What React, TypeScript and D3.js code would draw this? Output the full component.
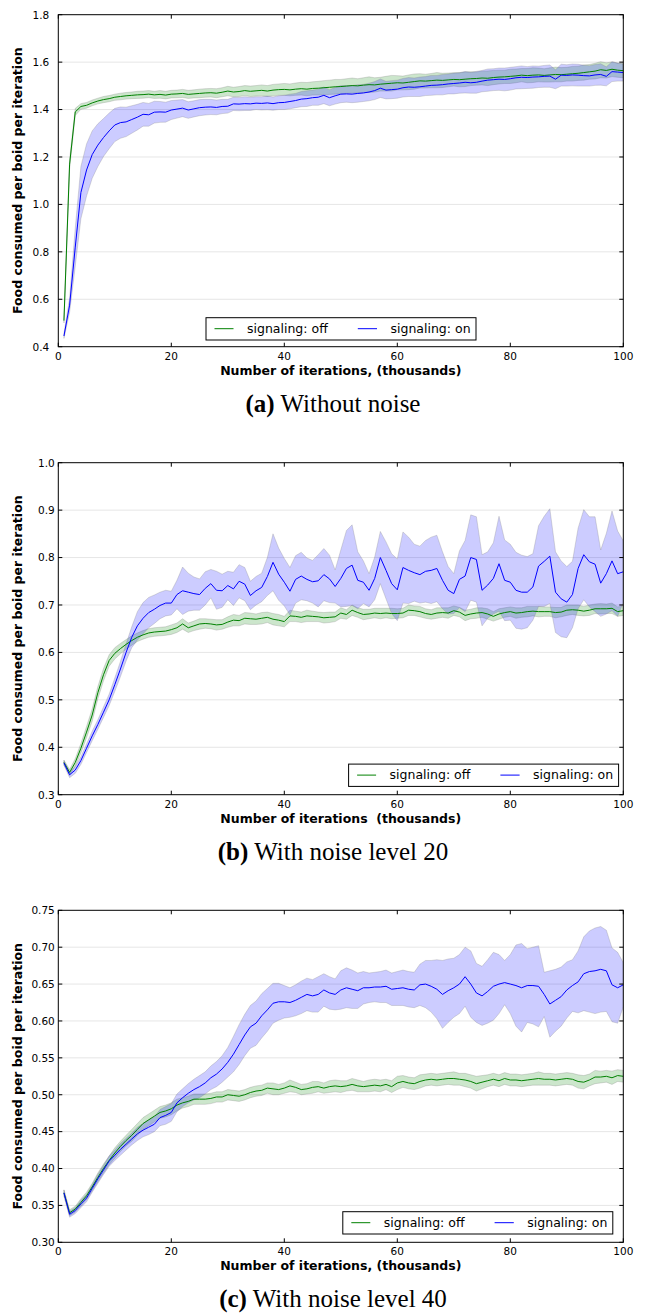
import React from 'react';
import * as d3 from 'd3';

const W = 646, H = 1314;
const LEFT = 58.3, RIGHT = 623.3, PLOT_H = 332;
const GREEN = '#008000', BLUE = '#0000ff';
const FONT = '"DejaVu Sans", sans-serif';

// x: iterations in thousands
const ITERS = d3.range(1, 101);
const X_TICKS = [0, 20, 40, 60, 80, 100];

// (a) without noise
const A_Y_TICKS = [0.4, 0.6, 0.8, 1.0, 1.2, 1.4, 1.6, 1.8];
const A_OFF = [
  0.51, 1.17, 1.39, 1.413, 1.418, 1.428, 1.436, 1.442, 1.446, 1.452,
  1.455, 1.458, 1.46, 1.462, 1.463, 1.465, 1.462, 1.464, 1.461, 1.465,
  1.466, 1.468, 1.464, 1.466, 1.468, 1.47, 1.471, 1.469, 1.473, 1.478,
  1.474, 1.476, 1.48, 1.477, 1.479, 1.481, 1.478, 1.482, 1.484, 1.485,
  1.483, 1.486, 1.488, 1.486, 1.489, 1.49, 1.492, 1.494, 1.496, 1.497,
  1.499, 1.501, 1.5, 1.503, 1.505, 1.504, 1.507, 1.509, 1.511, 1.513,
  1.512, 1.515, 1.518, 1.521, 1.52, 1.522, 1.524, 1.523, 1.525, 1.527,
  1.526, 1.528, 1.53, 1.531, 1.533, 1.532, 1.535, 1.537, 1.538, 1.54,
  1.542, 1.545, 1.543, 1.545, 1.546, 1.544, 1.546, 1.548, 1.547, 1.549,
  1.551, 1.553, 1.556, 1.559, 1.562, 1.568, 1.565, 1.57, 1.566, 1.564,
];
const A_OFF_SD = [
  0.01, 0.02, 0.015, 0.012, 0.012, 0.012, 0.012, 0.013, 0.013, 0.013,
  0.014, 0.014, 0.014, 0.015, 0.015, 0.015, 0.015, 0.016, 0.016, 0.016,
  0.016, 0.017, 0.017, 0.017, 0.018, 0.018, 0.018, 0.019, 0.019, 0.02,
  0.02, 0.021, 0.021, 0.022, 0.022, 0.023, 0.023, 0.024, 0.024, 0.025,
  0.025, 0.026, 0.027, 0.028, 0.028, 0.029, 0.03, 0.03, 0.031, 0.03,
  0.031, 0.032, 0.03, 0.031, 0.033, 0.03, 0.029, 0.031, 0.033, 0.03,
  0.029, 0.031, 0.032, 0.03, 0.029, 0.03, 0.032, 0.03, 0.029, 0.028,
  0.03, 0.031, 0.029, 0.028, 0.029, 0.031, 0.03, 0.029, 0.028, 0.03,
  0.029, 0.028, 0.03, 0.031, 0.029, 0.028, 0.03, 0.031, 0.03, 0.029,
  0.031, 0.03, 0.032, 0.031, 0.033, 0.034, 0.032, 0.031, 0.03, 0.03,
];
const A_ON = [
  0.445, 0.575, 0.82, 1.05, 1.145, 1.21, 1.25, 1.282, 1.31, 1.335,
  1.345, 1.348, 1.358, 1.368, 1.38, 1.378, 1.389, 1.39, 1.389, 1.398,
  1.402, 1.406, 1.398, 1.403, 1.408, 1.41, 1.411, 1.409, 1.413, 1.414,
  1.424, 1.423, 1.425, 1.424, 1.427, 1.426, 1.428, 1.425, 1.429, 1.43,
  1.434, 1.438, 1.444, 1.446, 1.45, 1.452, 1.46, 1.45, 1.458, 1.465,
  1.466, 1.465, 1.468, 1.47, 1.474, 1.48, 1.49, 1.482, 1.484, 1.486,
  1.492, 1.495, 1.494, 1.496, 1.499, 1.502, 1.503, 1.505, 1.508, 1.51,
  1.512, 1.515, 1.513, 1.515, 1.52, 1.524, 1.526, 1.528, 1.527, 1.53,
  1.534, 1.536, 1.535, 1.537, 1.538, 1.54, 1.541, 1.528, 1.545, 1.544,
  1.546, 1.545, 1.543, 1.542, 1.546, 1.548, 1.54, 1.56, 1.558, 1.556,
];
const A_ON_SD = [
  0.01, 0.03, 0.08, 0.11, 0.11, 0.1, 0.09, 0.08, 0.075, 0.07,
  0.066, 0.062, 0.058, 0.054, 0.05, 0.048, 0.046, 0.044, 0.042, 0.04,
  0.038, 0.036, 0.035, 0.034, 0.034, 0.033, 0.032, 0.031, 0.03, 0.029,
  0.028, 0.028, 0.029, 0.028, 0.027, 0.028, 0.029, 0.028, 0.029, 0.03,
  0.031, 0.03, 0.032, 0.033, 0.032, 0.034, 0.035, 0.034, 0.035, 0.036,
  0.035, 0.036, 0.037, 0.036, 0.037, 0.038, 0.039, 0.037, 0.038, 0.038,
  0.039, 0.04, 0.039, 0.041, 0.04, 0.042, 0.041, 0.043, 0.042, 0.044,
  0.043, 0.045, 0.044, 0.046, 0.045, 0.047, 0.046, 0.047, 0.048, 0.048,
  0.047, 0.048, 0.046, 0.047, 0.045, 0.046, 0.047, 0.04, 0.046, 0.045,
  0.046, 0.046, 0.044, 0.043, 0.044, 0.045, 0.04, 0.042, 0.038, 0.036,
];

// (b) noise level 20
const B_Y_TICKS = [0.3, 0.4, 0.5, 0.6, 0.7, 0.8, 0.9, 1.0];
const B_OFF = [
  0.368, 0.347, 0.368, 0.398, 0.432, 0.468, 0.515, 0.553, 0.583, 0.598,
  0.608, 0.617, 0.625, 0.632, 0.637, 0.641, 0.643, 0.644, 0.645, 0.648,
  0.652, 0.66, 0.652, 0.656, 0.66, 0.661, 0.66, 0.658, 0.659, 0.664,
  0.668, 0.667, 0.672, 0.671, 0.67, 0.672, 0.674, 0.67, 0.668, 0.665,
  0.677, 0.676, 0.674, 0.677, 0.676, 0.675, 0.673, 0.674, 0.675, 0.683,
  0.68, 0.689, 0.684, 0.68, 0.681, 0.683, 0.682, 0.683, 0.682, 0.682,
  0.683, 0.689, 0.688, 0.686, 0.682, 0.68, 0.683, 0.684, 0.683, 0.688,
  0.685, 0.678, 0.681, 0.683, 0.684, 0.681, 0.676, 0.681, 0.684, 0.686,
  0.683, 0.684, 0.686, 0.687, 0.686, 0.686, 0.686, 0.684, 0.685, 0.689,
  0.69, 0.689, 0.687, 0.689, 0.692, 0.692, 0.692, 0.693, 0.686, 0.688,
];
const B_OFF_SD = [
  0.005, 0.006, 0.008, 0.01, 0.012, 0.013, 0.013, 0.013, 0.012, 0.012,
  0.011, 0.01, 0.01, 0.009, 0.009, 0.009, 0.009, 0.009, 0.009, 0.01,
  0.01, 0.011, 0.01, 0.01, 0.011, 0.01, 0.01, 0.011, 0.01, 0.011,
  0.012, 0.011, 0.012, 0.012, 0.011, 0.012, 0.011, 0.012, 0.012, 0.011,
  0.012, 0.011, 0.011, 0.012, 0.011, 0.01, 0.011, 0.011, 0.01, 0.011,
  0.01, 0.011, 0.01, 0.011, 0.01, 0.01, 0.011, 0.01, 0.011, 0.01,
  0.01, 0.011, 0.01, 0.011, 0.01, 0.01, 0.011, 0.01, 0.011, 0.01,
  0.01, 0.011, 0.01, 0.011, 0.01, 0.011, 0.01, 0.011, 0.01, 0.01,
  0.011, 0.01, 0.011, 0.01, 0.011, 0.01, 0.01, 0.011, 0.01, 0.011,
  0.01, 0.011, 0.01, 0.011, 0.01, 0.011, 0.01, 0.011, 0.01, 0.01,
];
const B_ON = [
  0.367, 0.342, 0.352, 0.372, 0.398, 0.424, 0.448, 0.474, 0.5, 0.532,
  0.565, 0.6, 0.632, 0.656, 0.672, 0.684, 0.691, 0.699, 0.704, 0.704,
  0.722, 0.73, 0.727, 0.724, 0.722, 0.735, 0.745, 0.731, 0.73, 0.741,
  0.734, 0.75, 0.744, 0.72, 0.73, 0.737, 0.76, 0.79, 0.765, 0.748,
  0.729, 0.754, 0.761, 0.754, 0.749, 0.751, 0.764, 0.755, 0.739, 0.756,
  0.777, 0.784, 0.752, 0.748, 0.731, 0.756, 0.8, 0.773, 0.745, 0.732,
  0.779, 0.773, 0.768, 0.764, 0.771, 0.773, 0.777, 0.752, 0.731, 0.724,
  0.754, 0.761, 0.8, 0.796, 0.731, 0.742, 0.756, 0.787, 0.752, 0.748,
  0.731, 0.727, 0.727, 0.738, 0.782, 0.792, 0.803, 0.727, 0.713, 0.706,
  0.722, 0.777, 0.806, 0.791, 0.786, 0.746, 0.766, 0.793, 0.766, 0.77,
];
const B_ON_SD = [
  0.005, 0.006, 0.007, 0.008, 0.009, 0.01, 0.01, 0.011, 0.012, 0.014,
  0.016, 0.018, 0.022, 0.03, 0.033, 0.032, 0.03, 0.028, 0.027, 0.025,
  0.03, 0.05, 0.04, 0.035, 0.033, 0.035, 0.03, 0.04, 0.035, 0.03,
  0.035, 0.035, 0.035, 0.03, 0.03, 0.03, 0.04, 0.06, 0.055, 0.05,
  0.05, 0.05, 0.05, 0.045, 0.045, 0.055, 0.055, 0.05, 0.035, 0.06,
  0.08, 0.085, 0.06, 0.045, 0.035, 0.045, 0.055, 0.06, 0.063, 0.065,
  0.075, 0.07, 0.06, 0.06, 0.065, 0.07, 0.07, 0.06, 0.05, 0.042,
  0.06, 0.075, 0.09, 0.09, 0.075, 0.07, 0.075, 0.1, 0.085, 0.08,
  0.08, 0.078, 0.075, 0.07, 0.085, 0.095, 0.1, 0.085, 0.08, 0.075,
  0.07, 0.085, 0.095, 0.095, 0.1, 0.07, 0.085, 0.105, 0.09, 0.065,
];

// (c) noise level 40
const C_Y_TICKS = [0.3, 0.35, 0.4, 0.45, 0.5, 0.55, 0.6, 0.65, 0.7, 0.75];
const C_OFF = [
  0.367, 0.34, 0.345, 0.354, 0.363, 0.375, 0.388, 0.4, 0.411, 0.421,
  0.43, 0.438, 0.445, 0.453, 0.461, 0.466, 0.471, 0.476, 0.478, 0.481,
  0.486, 0.489, 0.491, 0.494, 0.494, 0.494, 0.495, 0.497, 0.497, 0.5,
  0.499, 0.498, 0.5, 0.503, 0.505, 0.506, 0.509, 0.508, 0.507, 0.509,
  0.512, 0.51, 0.507, 0.508, 0.51, 0.511, 0.509, 0.511, 0.512, 0.511,
  0.512, 0.514, 0.512, 0.511, 0.512, 0.513, 0.512, 0.514, 0.511, 0.516,
  0.518, 0.516, 0.515, 0.518, 0.52, 0.521, 0.52, 0.521, 0.522, 0.522,
  0.521, 0.52, 0.518, 0.515, 0.517, 0.519, 0.521, 0.519, 0.522, 0.52,
  0.52, 0.519, 0.52, 0.521, 0.522, 0.521, 0.521, 0.52, 0.521, 0.522,
  0.521, 0.518, 0.517, 0.52, 0.524, 0.524, 0.525, 0.523, 0.526, 0.525,
];
const C_OFF_SD = [
  0.004, 0.004, 0.004, 0.005, 0.005, 0.005, 0.006, 0.006, 0.006, 0.007,
  0.007, 0.007, 0.008, 0.008, 0.008, 0.008, 0.008, 0.008, 0.008, 0.008,
  0.008, 0.007, 0.007, 0.007, 0.007, 0.007, 0.007, 0.007, 0.007, 0.007,
  0.007, 0.007, 0.007, 0.007, 0.007, 0.007, 0.007, 0.008, 0.007, 0.007,
  0.008, 0.007, 0.007, 0.007, 0.008, 0.007, 0.007, 0.008, 0.008, 0.008,
  0.007, 0.008, 0.008, 0.007, 0.008, 0.008, 0.008, 0.007, 0.008, 0.009,
  0.008, 0.008, 0.008, 0.009, 0.008, 0.008, 0.008, 0.008, 0.008, 0.009,
  0.008, 0.009, 0.009, 0.01, 0.009, 0.008, 0.008, 0.008, 0.008, 0.008,
  0.008, 0.008, 0.008, 0.008, 0.009, 0.008, 0.008, 0.008, 0.008, 0.008,
  0.008, 0.009, 0.009, 0.008, 0.009, 0.008, 0.008, 0.009, 0.008, 0.008,
];
const C_ON = [
  0.367, 0.338, 0.343, 0.352, 0.36, 0.373, 0.386, 0.398, 0.41, 0.418,
  0.426, 0.433, 0.44, 0.447, 0.452, 0.456, 0.46, 0.469, 0.472, 0.476,
  0.489, 0.496, 0.502, 0.507, 0.511, 0.516, 0.523, 0.528, 0.535, 0.544,
  0.555, 0.568, 0.581, 0.592, 0.597, 0.607, 0.615, 0.624, 0.626, 0.626,
  0.625, 0.628, 0.632, 0.636, 0.634, 0.636, 0.642, 0.638, 0.636, 0.642,
  0.645, 0.643, 0.641, 0.645, 0.645, 0.646, 0.646, 0.647, 0.643, 0.644,
  0.645, 0.643, 0.642, 0.649, 0.65, 0.647, 0.643, 0.636, 0.641, 0.645,
  0.65, 0.66, 0.65, 0.638, 0.634, 0.64, 0.647, 0.65, 0.652, 0.65,
  0.648, 0.645, 0.648, 0.648, 0.647, 0.636, 0.623, 0.628, 0.633, 0.642,
  0.648, 0.653, 0.664, 0.667, 0.668, 0.67, 0.668, 0.649, 0.645, 0.649,
];
const C_ON_SD = [
  0.004, 0.004, 0.004, 0.005, 0.005, 0.005, 0.006, 0.006, 0.007, 0.007,
  0.008, 0.008, 0.008, 0.009, 0.009, 0.01, 0.01, 0.011, 0.012, 0.012,
  0.012, 0.012, 0.013, 0.014, 0.015, 0.015, 0.016, 0.017, 0.018, 0.02,
  0.024, 0.027, 0.028, 0.029, 0.03, 0.03, 0.029, 0.027, 0.025, 0.022,
  0.02, 0.021, 0.022, 0.022, 0.022, 0.024, 0.022, 0.022, 0.021, 0.026,
  0.027, 0.026, 0.024, 0.022, 0.02, 0.02, 0.021, 0.022, 0.022, 0.023,
  0.024, 0.024, 0.024, 0.028, 0.032, 0.035, 0.04, 0.046, 0.043, 0.04,
  0.04, 0.04, 0.045, 0.04, 0.04, 0.043, 0.046, 0.04, 0.03, 0.04,
  0.055, 0.06, 0.05, 0.052, 0.055, 0.03, 0.045, 0.042, 0.04, 0.038,
  0.035, 0.042, 0.05, 0.055, 0.058, 0.058, 0.055, 0.05, 0.048, 0.03,
];

const PANELS = [
  {
    top: 14.7, yTicks: A_Y_TICKS, fmt: d3.format('.1f'), tickGap: 9,
    off: A_OFF, offSd: A_OFF_SD, on: A_ON, onSd: A_ON_SD,
    xLabel: 'Number of iterations, (thousands)',
    tag: '(a)', caption: 'Without noise', legend: { x: 206, y: 317.7 },
  },
  {
    top: 462.7, yTicks: B_Y_TICKS, fmt: d3.format('.1f'), tickGap: 3.5,
    off: B_OFF, offSd: B_OFF_SD, on: B_ON, onSd: B_ON_SD,
    xLabel: 'Number of iterations  (thousands)',
    tag: '(b)', caption: 'With noise level 20', legend: { x: 348.6, y: 764.1 },
  },
  {
    top: 910.3, yTicks: C_Y_TICKS, fmt: d3.format('.2f'), tickGap: 3.5,
    off: C_OFF, offSd: C_OFF_SD, on: C_ON, onSd: C_ON_SD,
    xLabel: 'Number of iterations, (thousands)',
    tag: '(c)', caption: 'With noise level 40', legend: { x: 342.8, y: 1211.7 },
  },
];

function Panel({ p, idx }: { p: any; idx: number }) {
  const bottom = p.top + PLOT_H;
  const x = d3.scaleLinear().domain([0, 100]).range([LEFT, RIGHT]);
  const y = d3.scaleLinear()
    .domain([p.yTicks[0], p.yTicks[p.yTicks.length - 1]])
    .range([bottom, p.top]);

  const lineGen = d3.line<number>().x((_, i) => x(ITERS[i])).y(v => y(v));
  const areaGen = (sd: number[]) => d3.area<number>()
    .x((_, i) => x(ITERS[i]))
    .y0((v, i) => y(v - sd[i]))
    .y1((v, i) => y(v + sd[i]));

  const clipId = `clip${idx}`;
  const midY = (p.top + bottom) / 2;
  const lg = p.legend;

  return (
    <g>
      <defs>
        <clipPath id={clipId}>
          <rect x={LEFT} y={p.top} width={RIGHT - LEFT} height={PLOT_H} />
        </clipPath>
      </defs>

      {/* horizontal grid */}
      {p.yTicks.slice(1, -1).map((t: number) => (
        <line key={t} x1={LEFT} x2={RIGHT} y1={y(t)} y2={y(t)} stroke="#e6e6e6" strokeWidth={1} />
      ))}

      <g clipPath={`url(#${clipId})`}>
        <path d={areaGen(p.offSd)(p.off) || ''} fill={GREEN} fillOpacity={0.2}
          stroke="#808080" strokeOpacity={0.35} strokeWidth={0.8} />
        <path d={areaGen(p.onSd)(p.on) || ''} fill={BLUE} fillOpacity={0.2}
          stroke="#808080" strokeOpacity={0.35} strokeWidth={0.8} />
        <path d={lineGen(p.off) || ''} fill="none" stroke={GREEN} strokeWidth={1} />
        <path d={lineGen(p.on) || ''} fill="none" stroke={BLUE} strokeWidth={1} />
      </g>

      {/* ticks, inward on all sides */}
      {X_TICKS.map(t => (
        <g key={`x${t}`}>
          <line x1={x(t)} x2={x(t)} y1={bottom} y2={bottom - 4} stroke="#000" />
          <line x1={x(t)} x2={x(t)} y1={p.top} y2={p.top + 4} stroke="#000" />
          <text x={x(t)} y={bottom + 13} textAnchor="middle" fontFamily={FONT} fontSize={10.5} fill="#000">{t}</text>
        </g>
      ))}
      {p.yTicks.map((t: number) => (
        <g key={`y${t}`}>
          <line x1={LEFT} x2={LEFT + 4} y1={y(t)} y2={y(t)} stroke="#000" />
          <line x1={RIGHT} x2={RIGHT - 4} y1={y(t)} y2={y(t)} stroke="#000" />
          <text x={LEFT - p.tickGap} y={y(t) + 3.8} textAnchor="end" fontFamily={FONT} fontSize={10.5} fill="#000">{p.fmt(t)}</text>
        </g>
      ))}

      <rect x={LEFT} y={p.top} width={RIGHT - LEFT} height={PLOT_H} fill="none" stroke="#000" strokeWidth={1} />

      {/* legend */}
      <rect x={lg.x} y={lg.y} width={270} height={22.3} fill="#fff" stroke="#000" strokeWidth={1} />
      <line x1={lg.x + 8.5} x2={lg.x + 27.5} y1={lg.y + 11} y2={lg.y + 11} stroke={GREEN} strokeWidth={1} />
      <text x={lg.x + 41} y={lg.y + 15.3} fontFamily={FONT} fontSize={12.5} fill="#000">signaling: off</text>
      <line x1={lg.x + 151.8} x2={lg.x + 171} y1={lg.y + 11} y2={lg.y + 11} stroke={BLUE} strokeWidth={1} />
      <text x={lg.x + 184.5} y={lg.y + 15.3} fontFamily={FONT} fontSize={12.5} fill="#000">signaling: on</text>

      {/* axis labels */}
      <text x={(LEFT + RIGHT) / 2} y={bottom + 27.8} textAnchor="middle" fontFamily={FONT} fontSize={12.5}
        fontWeight="bold" fill="#000" xmlSpace="preserve" style={{ whiteSpace: 'pre' }}>{p.xLabel}</text>
      <text transform={`translate(22,${midY}) rotate(-90)`} textAnchor="middle" fontFamily={FONT}
        fontSize={12.5} fontWeight="bold" fill="#000">Food consumed per boid per iteration</text>

      {/* caption */}
      <text x={333} y={bottom + 65} textAnchor="middle" fontFamily='"Liberation Serif", serif' fontSize={25} fill="#000">
        <tspan fontWeight="bold">{p.tag}</tspan> {p.caption}
      </text>
    </g>
  );
}

export default function App() {
  return (
    <svg width={W} height={H} style={{ position: 'absolute', left: 0, top: 0, background: '#fff' }}>
      <rect width={W} height={H} fill="#fff" />
      {PANELS.map((p, i) => <Panel key={i} p={p} idx={i} />)}
    </svg>
  );
}
